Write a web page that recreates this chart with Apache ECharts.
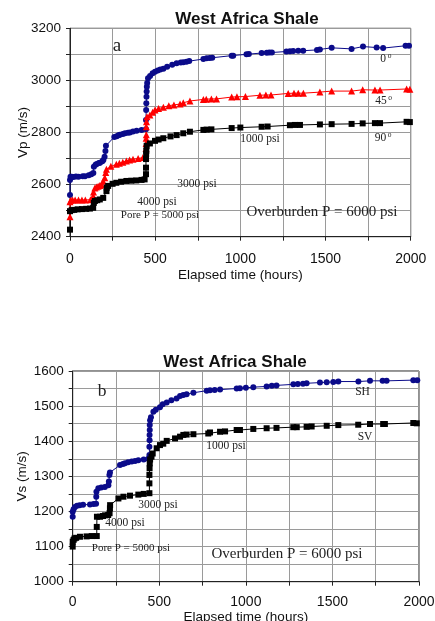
<!DOCTYPE html>
<html>
<head>
<meta charset="utf-8">
<script src="https://cdn.jsdelivr.net/npm/echarts@6/dist/echarts.min.js"></script>
<style>
html,body{margin:0;padding:0;background:#fff;}
#chart{width:435px;height:621px;}
</style>
</head>
<body>
<div id="chart"></div>
<script>
// ---- Data (elapsed time in hours, velocity in m/s) ----
var vp0 = [[0,2560],[0,2618],[3,2630],[10,2630],[20,2629],[35,2631],[50,2630],[75,2632],[88,2632],[110,2636],[125,2640],[137,2645],[140,2669],[150,2676],[157,2679],[170,2683],[176,2684],[190,2690],[196,2694],[203,2707],[208,2729],[211,2749],[260,2783],[274,2786],[285,2789],[293,2791],[310,2794],[323,2797],[340,2799],[352,2800],[370,2804],[391,2807],[420,2810],[446,2812],[446,2848],[447,2886],[448,2912],[449,2937],[450,2957],[451,2976],[453,2990],[458,3008],[470,3017],[485,3027],[499,3033],[515,3038],[530,3042],[548,3045],[570,3052],[600,3060],[626,3066],[650,3069],[665,3070],[684,3072],[700,3074],[783,3082],[802,3085],[820,3086],[835,3087],[949,3095],[958,3095],[1036,3100],[1050,3101],[1125,3105],[1155,3106],[1170,3107],[1185,3107],[1270,3111],[1291,3112],[1310,3113],[1340,3114],[1369,3114],[1450,3117],[1467,3119],[1536,3125],[1653,3121],[1720,3130],[1800,3126],[1838,3124],[1970,3133],[1990,3133]];

var vp45 = [[0,2477],[0,2534],[5,2540],[15,2541],[30,2541],[50,2541],[70,2541],[90,2541],[120,2542],[136,2556],[138,2572],[146,2587],[155,2591],[165,2594],[175,2597],[185,2600],[195,2613],[204,2626],[210,2646],[214,2659],[240,2670],[272,2678],[290,2682],[310,2686],[331,2691],[350,2694],[370,2697],[400,2700],[428,2704],[446,2706],[446,2739],[447,2758],[447,2778],[448,2791],[448,2822],[449,2841],[452,2860],[469,2867],[485,2878],[499,2886],[520,2892],[548,2897],[580,2903],[610,2906],[646,2909],[665,2914],[704,2921],[783,2927],[800,2928],[830,2929],[860,2929],[949,2936],[980,2937],[1030,2938],[1115,2943],[1150,2944],[1180,2944],[1281,2950],[1315,2951],[1340,2951],[1370,2951],[1467,2955],[1536,2959],[1653,2959],[1718,2964],[1790,2963],[1820,2963],[1976,2967],[1995,2966]];

var vp90 = [[0,2427],[0,2498],[10,2502],[25,2503],[45,2505],[70,2506],[95,2507],[117,2508],[136,2511],[140,2530],[146,2537],[160,2540],[175,2543],[195,2549],[214,2575],[216,2588],[224,2595],[250,2603],[272,2607],[300,2611],[331,2614],[360,2615],[389,2616],[420,2618],[438,2620],[446,2640],[446,2665],[446,2698],[447,2717],[448,2730],[450,2749],[469,2758],[499,2768],[520,2773],[548,2778],[590,2785],[626,2790],[665,2797],[704,2803],[783,2810],[802,2811],[830,2812],[949,2817],[1000,2819],[1125,2822],[1160,2823],[1291,2828],[1320,2829],[1350,2829],[1467,2831],[1536,2832],[1653,2833],[1718,2835],[1790,2836],[1820,2836],[1976,2841],[1995,2840]];

var vsSH = [[0,1185],[0,1199],[5,1206],[13,1213],[25,1216],[40,1218],[60,1219],[100,1220],[120,1221],[135,1222],[136,1242],[137,1256],[148,1266],[165,1268],[186,1270],[206,1275],[209,1285],[212,1304],[215,1311],[273,1332],[290,1335],[302,1337],[320,1340],[341,1342],[360,1344],[379,1346],[410,1348],[437,1350],[443,1361],[443,1384],[444,1403],[444,1418],[445,1432],[445,1446],[447,1460],[452,1468],[466,1484],[480,1490],[504,1497],[520,1505],[543,1510],[570,1517],[600,1522],[620,1529],[639,1532],[658,1534],[697,1538],[774,1544],[793,1545],[820,1546],[851,1547],[947,1550],[966,1551],[1000,1552],[1043,1554],[1120,1556],[1150,1558],[1177,1559],[1274,1562],[1300,1563],[1330,1564],[1351,1565],[1428,1567],[1467,1568],[1505,1569],[1534,1570],[1650,1570],[1717,1572],[1790,1572],[1813,1572],[1967,1574],[1990,1574]];

var vsSV = [[0,1100],[0,1114],[5,1119],[10,1123],[20,1125],[42,1128],[80,1129],[110,1130],[139,1130],[139,1156],[140,1185],[158,1185],[175,1187],[187,1189],[205,1190],[213,1195],[215,1209],[216,1218],[264,1237],[293,1242],[331,1245],[379,1248],[410,1250],[443,1252],[443,1280],[443,1304],[444,1323],[445,1337],[447,1348],[455,1356],[462,1365],[485,1380],[504,1389],[523,1393],[543,1401],[591,1408],[620,1413],[639,1418],[658,1419],[697,1420],[783,1422],[793,1425],[851,1427],[880,1428],[947,1432],[966,1432],[1043,1435],[1120,1437],[1177,1438],[1274,1440],[1294,1440],[1351,1441],[1380,1442],[1467,1444],[1534,1446],[1649,1447],[1717,1449],[1793,1449],[1803,1449],[1967,1452],[1987,1451]];

var titleText = 'West Africa Shale';
var xName = 'Elapsed time (hours)';
var yNameTop = 'Vp (m/s)';
var yNameBottom = 'Vs (m/s)';

// ---- Styles ----
var SANS = '"Liberation Sans", Arial, sans-serif';
var SERIF = '"Liberation Serif", "Times New Roman", serif';
var NAVY = '#0b0b8a';
var GRIDC = '#9a9a9a';

function xAxisCfg(gi, labelMargin, nameGap) {
  return {
    gridIndex: gi, type: 'value', min: 0, max: 2000, interval: 250,
    name: xName, nameLocation: 'middle', nameGap: nameGap, nameMoveOverlap: false,
    nameTextStyle: {fontFamily: SANS, fontSize: 13.5, color: '#111'},
    axisLine: {show: true, lineStyle: {color: '#222', width: 1}},
    axisTick: {show: true, length: 4, lineStyle: {color: '#222'}},
    axisLabel: {fontFamily: SANS, fontSize: 14, color: '#111', margin: labelMargin,
      formatter: function (v) { return v % 500 === 0 ? String(v) : ''; }},
    splitLine: {show: true, lineStyle: {color: GRIDC, width: 1}}
  };
}
function yAxisCfg(gi, min, max, interval, labelStep, name, nameGap) {
  return {
    gridIndex: gi, type: 'value', min: min, max: max, interval: interval,
    name: name, nameLocation: 'middle', nameGap: nameGap, nameRotate: 90, nameMoveOverlap: false,
    nameTextStyle: {fontFamily: SANS, fontSize: 13.5, color: '#111'},
    axisLine: {show: true, lineStyle: {color: '#222', width: 1}},
    axisTick: {show: true, length: 4, lineStyle: {color: '#222'}},
    axisLabel: {fontFamily: SANS, fontSize: 13.5, color: '#111', margin: 9,
      formatter: function (v) { return v % labelStep === 0 ? String(v) : ''; }},
    splitLine: {show: true, lineStyle: {color: GRIDC, width: 1}}
  };
}
function lineSeries(name, data, xi, yi, color, symbol, size) {
  return {
    name: name, type: 'line', xAxisIndex: xi, yAxisIndex: yi, data: data,
    symbol: symbol, symbolSize: size, showSymbol: true, animation: false,
    lineStyle: {color: color, width: 1}, itemStyle: {color: color},
    z: 3
  };
}
function txt(s, x, y, size, family, extra) {
  var o = {type: 'text', x: x, y: y, z: 10, silent: true,
    style: {text: s, fill: '#222', font: size + 'px ' + family, align: 'center', verticalAlign: 'middle'}};
  if (extra) for (var k in extra) o.style[k] = extra[k];
  return o;
}

var graphics = [
  // top chart annotations
  txt('a', 117, 46, 19, SERIF),
  txt('0', 383, 59, 11.5, SERIF), txt('o', 389.5, 56, 7.5, SERIF),
  txt('45', 381, 101, 11.5, SERIF), txt('o', 390, 98, 7.5, SERIF),
  txt('90', 380.5, 138, 11.5, SERIF), txt('o', 389.5, 135, 7.5, SERIF),
  txt('1000 psi', 260, 139, 11.5, SERIF),
  txt('3000 psi', 197, 184, 11.5, SERIF),
  txt('4000 psi', 157, 201.5, 11.5, SERIF),
  txt('Pore P = 5000 psi', 160, 215, 11, SERIF),
  txt('Overburden P = 6000 psi', 322, 212, 15, SERIF),
  // bottom chart annotations
  txt('b', 102, 391, 17.5, SERIF),
  txt('SH', 362.5, 392, 11.5, SERIF),
  txt('SV', 365, 437, 11.5, SERIF),
  txt('1000 psi', 226, 446, 11.5, SERIF),
  txt('3000 psi', 158, 505, 11.5, SERIF),
  txt('4000 psi', 125, 523, 11.5, SERIF),
  txt('Pore P = 5000 psi', 131, 548, 11, SERIF),
  txt('Overburden P = 6000 psi', 287, 554, 15, SERIF)
];

var chart = echarts.init(document.getElementById('chart'), null, {renderer: 'canvas'});
chart.setOption({
  backgroundColor: '#fff',
  animation: false,
  title: [
    {text: titleText, left: 242, top: 6, textAlign: 'center',
     textStyle: {fontFamily: SANS, fontSize: 17, fontWeight: 'bold', color: '#111'}},
    {text: titleText, left: 230, top: 349, textAlign: 'center',
     textStyle: {fontFamily: SANS, fontSize: 17, fontWeight: 'bold', color: '#111'}}
  ],
  grid: [
    {left: 70, top: 28.3, width: 340.7, height: 208.4, show: true, borderColor: '#222', borderWidth: 1,
     backgroundColor: 'transparent', containLabel: false, outerBoundsMode: 'none'},
    {left: 72.7, top: 371, width: 346.3, height: 210.7, show: true, borderColor: '#222', borderWidth: 1,
     backgroundColor: 'transparent', containLabel: false, outerBoundsMode: 'none'}
  ],
  xAxis: [xAxisCfg(0, 15, 32), xAxisCfg(1, 13, 29)],
  yAxis: [
    yAxisCfg(0, 2400, 3200, 100, 200, yNameTop, 40),
    yAxisCfg(1, 1000, 1600, 50, 100, yNameBottom, 43)
  ],
  series: [
    lineSeries('0°', vp0, 0, 0, NAVY, 'circle', 6),
    lineSeries('45°', vp45, 0, 0, '#ff0000', 'triangle', 7),
    lineSeries('90°', vp90, 0, 0, '#000000', 'rect', 6),
    lineSeries('SH', vsSH, 1, 1, NAVY, 'circle', 6),
    lineSeries('SV', vsSV, 1, 1, '#000000', 'rect', 6)
  ],
  graphic: graphics
});
</script>
</body>
</html>
